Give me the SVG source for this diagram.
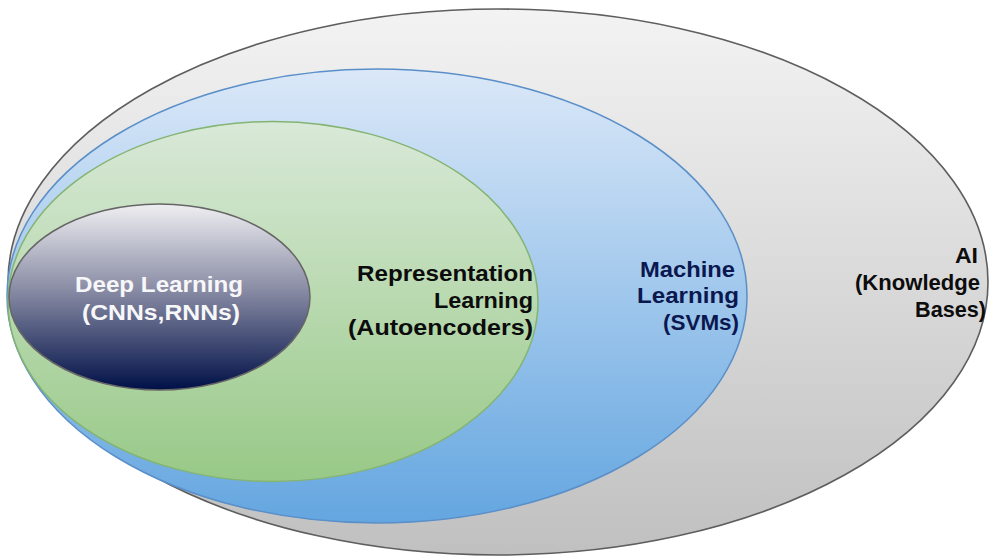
<svg xmlns="http://www.w3.org/2000/svg" width="990" height="558" viewBox="0 0 990 558">
  <defs>
    <linearGradient id="gAI" x1="0" y1="0" x2="0" y2="1">
      <stop offset="0" stop-color="#f3f3f3"/>
      <stop offset="1" stop-color="#c0c0c0"/>
    </linearGradient>
    <linearGradient id="gML" x1="0" y1="0" x2="0" y2="1">
      <stop offset="0" stop-color="#dbe8f8"/>
      <stop offset="1" stop-color="#64a6e0"/>
    </linearGradient>
    <linearGradient id="gRL" x1="0" y1="0" x2="0" y2="1">
      <stop offset="0" stop-color="#d9e9d8"/>
      <stop offset="1" stop-color="#98c987"/>
    </linearGradient>
    <linearGradient id="gDL" x1="0" y1="0" x2="0" y2="1">
      <stop offset="0" stop-color="#efeff2"/>
      <stop offset="0.45" stop-color="#8b8ea6"/>
      <stop offset="1" stop-color="#001047"/>
    </linearGradient>
  </defs>
  <style>
    .lbl { font-family: "Liberation Sans", Arial, Helvetica, sans-serif; font-weight: bold; font-size: 22px; text-anchor: end; }
    .dark { fill: #0c0c0c; }
    .navy { fill: #0b1850; }
    .light { fill: #f7f7f9; text-anchor: start; }
  </style>

  <!-- outermost set: AI -->
  <g id="ai">
    <ellipse cx="498" cy="282" rx="490" ry="273" fill="url(#gAI)" stroke="#5e5e5e" stroke-width="1.6"/>
    <text class="lbl dark" x="978" y="263" textLength="23" lengthAdjust="spacingAndGlyphs">AI</text>
    <text class="lbl dark" x="980" y="290" textLength="125" lengthAdjust="spacingAndGlyphs">(Knowledge</text>
    <text class="lbl dark" x="986" y="317" textLength="71" lengthAdjust="spacingAndGlyphs">Bases)</text>
  </g>

  <!-- Machine Learning -->
  <g id="machine-learning">
    <ellipse cx="377" cy="296" rx="370" ry="227" fill="url(#gML)" stroke="#5a8fc8" stroke-width="1.5"/>
    <text class="lbl navy" x="735" y="277" textLength="95" lengthAdjust="spacingAndGlyphs">Machine</text>
    <text class="lbl navy" x="739" y="303" textLength="102" lengthAdjust="spacingAndGlyphs">Learning</text>
    <text class="lbl navy" x="739" y="330" textLength="76" lengthAdjust="spacingAndGlyphs">(SVMs)</text>
  </g>

  <!-- Representation Learning -->
  <g id="representation-learning">
    <ellipse cx="273" cy="301.5" rx="265" ry="180" fill="url(#gRL)" stroke="#84b472" stroke-width="1.5"/>
    <text class="lbl dark" x="533" y="281" textLength="176" lengthAdjust="spacingAndGlyphs">Representation</text>
    <text class="lbl dark" x="533" y="308" textLength="99" lengthAdjust="spacingAndGlyphs">Learning</text>
    <text class="lbl dark" x="533" y="335" textLength="185" lengthAdjust="spacingAndGlyphs">(Autoencoders)</text>
  </g>

  <!-- Deep Learning -->
  <g id="deep-learning">
    <ellipse cx="159.5" cy="297" rx="150.5" ry="93" fill="url(#gDL)" stroke="#666666" stroke-width="1.5"/>
    <text class="lbl light" x="75" y="292" textLength="168" lengthAdjust="spacingAndGlyphs">Deep Learning</text>
    <text class="lbl light" x="82" y="320" textLength="158" lengthAdjust="spacingAndGlyphs">(CNNs,RNNs)</text>
  </g>
</svg>
